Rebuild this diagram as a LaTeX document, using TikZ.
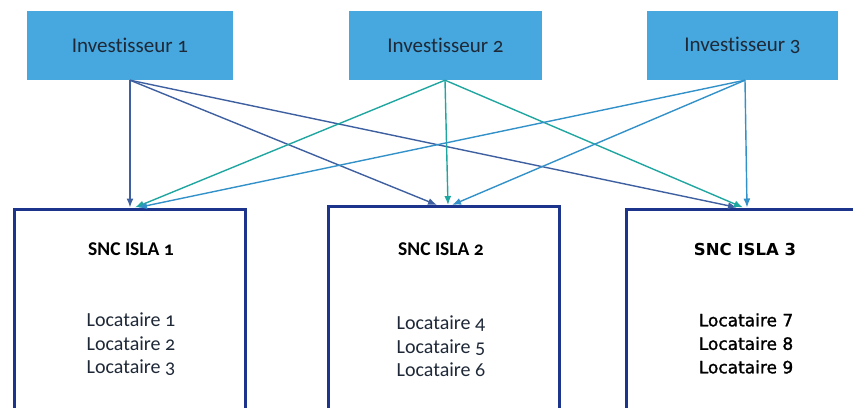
\documentclass[tikz,border=0pt]{standalone}
\usepackage{fontspec}
\setmainfont{Carlito}[Numbers=OldStyle, Ligatures=NoCommon]
\newfontfamily\tahomalike{DejaVu Sans}[BoldFont=DejaVu Sans, BoldFeatures={FakeBold=1.4}]
\newfontfamily\tahomabold{DejaVu Sans Bold}
\usetikzlibrary{arrows.meta,positioning}

\definecolor{invblue}{RGB}{70,168,222}
\definecolor{sncblue}{RGB}{28,52,140}
\definecolor{linkone}{RGB}{62,96,160}
\definecolor{linktwo}{RGB}{32,166,160}
\definecolor{linkthree}{RGB}{50,145,200}
\definecolor{textdark}{RGB}{30,40,55}

\begin{document}
\begin{tikzpicture}[
  x=1pt, y=-1pt,
  font=\fontsize{20}{23.5}\selectfont,
  investor/.style={fill=invblue, text=textdark, minimum height=69pt, inner sep=0pt,
    font=\fontsize{21}{24}\selectfont},
  snc/.style={draw=sncblue, line width=3pt, minimum width=231pt, minimum height=240pt, anchor=north},
  title/.style={font=\fontsize{19.5}{23.5}\selectfont\bfseries, text=black},
  tenants/.style={align=center, text=textdark},
  link/.style={-{Latex[length=9pt,width=7pt]}, line width=1.4pt},
  linkA/.style={link, draw=linkone},
  linkB/.style={link, draw=linktwo},
  linkC/.style={link, draw=linkthree}
]
\useasboundingbox (0,0) rectangle (853,407);
\clip (0,0) rectangle (853,407);

% investisseurs
\node[investor, minimum width=206pt] (inv1) at (130,45.5) {Investisseur 1};
\node[investor, minimum width=193pt] (inv2) at (445.5,45.5) {Investisseur 2};
\node[investor, minimum width=191pt] (inv3) at (742.5,45.5) {Investisseur 3};

% societes
\node[snc] (snc1) at (130,207.5) {};
\node[snc] (snc2) at (443.5,205) {};
\node[snc, minimum width=260pt] (snc3) at (756.5,207.5) {};

\node[title] (t1) at (131,249) {SNC ISLA 1};
\node[title] (t2) at (441,249) {SNC ISLA 2};
\node[title, font=\fontsize{16.5}{23.5}\selectfont\tahomabold] (t3) at (745,249) {SNC ISLA 3};

\node[tenants] (l1) at (131,344.5) {Locataire 1\\Locataire 2\\Locataire 3};
\node[tenants] (l2) at (441,346.5) {Locataire 4\\Locataire 5\\Locataire 6};
\node[tenants, font=\fontsize{17}{23.5}\selectfont\tahomalike\bfseries, text=black] (l3) at (746,343.5)
  {Locataire 7\\Locataire 8\\Locataire 9};

% participations
\draw[linkA] (inv1.south) -- ([xshift=0pt]snc1.north);
\draw[linkA] (inv1.south) -- ([xshift=-6.5pt]snc2.north);
\draw[linkA] (inv1.south) -- ([xshift=-19.5pt]snc3.north);

\draw[linkB] ([xshift=-0.5pt]inv2.south) -- ([xshift=5pt]snc1.north);
\draw[linkB] ([xshift=-0.5pt]inv2.south) -- ([xshift=4.5pt]snc2.north);
\draw[linkB] ([xshift=-0.5pt]inv2.south) -- ([xshift=-13.5pt]snc3.north);

\draw[linkC] ([xshift=2.5pt]inv3.south) -- ([xshift=8pt]snc1.north);
\draw[linkC] ([xshift=2.5pt]inv3.south) -- ([xshift=8.5pt]snc2.north);
\draw[linkC] ([xshift=2.5pt]inv3.south) -- ([xshift=-9.5pt]snc3.north);

\end{tikzpicture}
\end{document}
